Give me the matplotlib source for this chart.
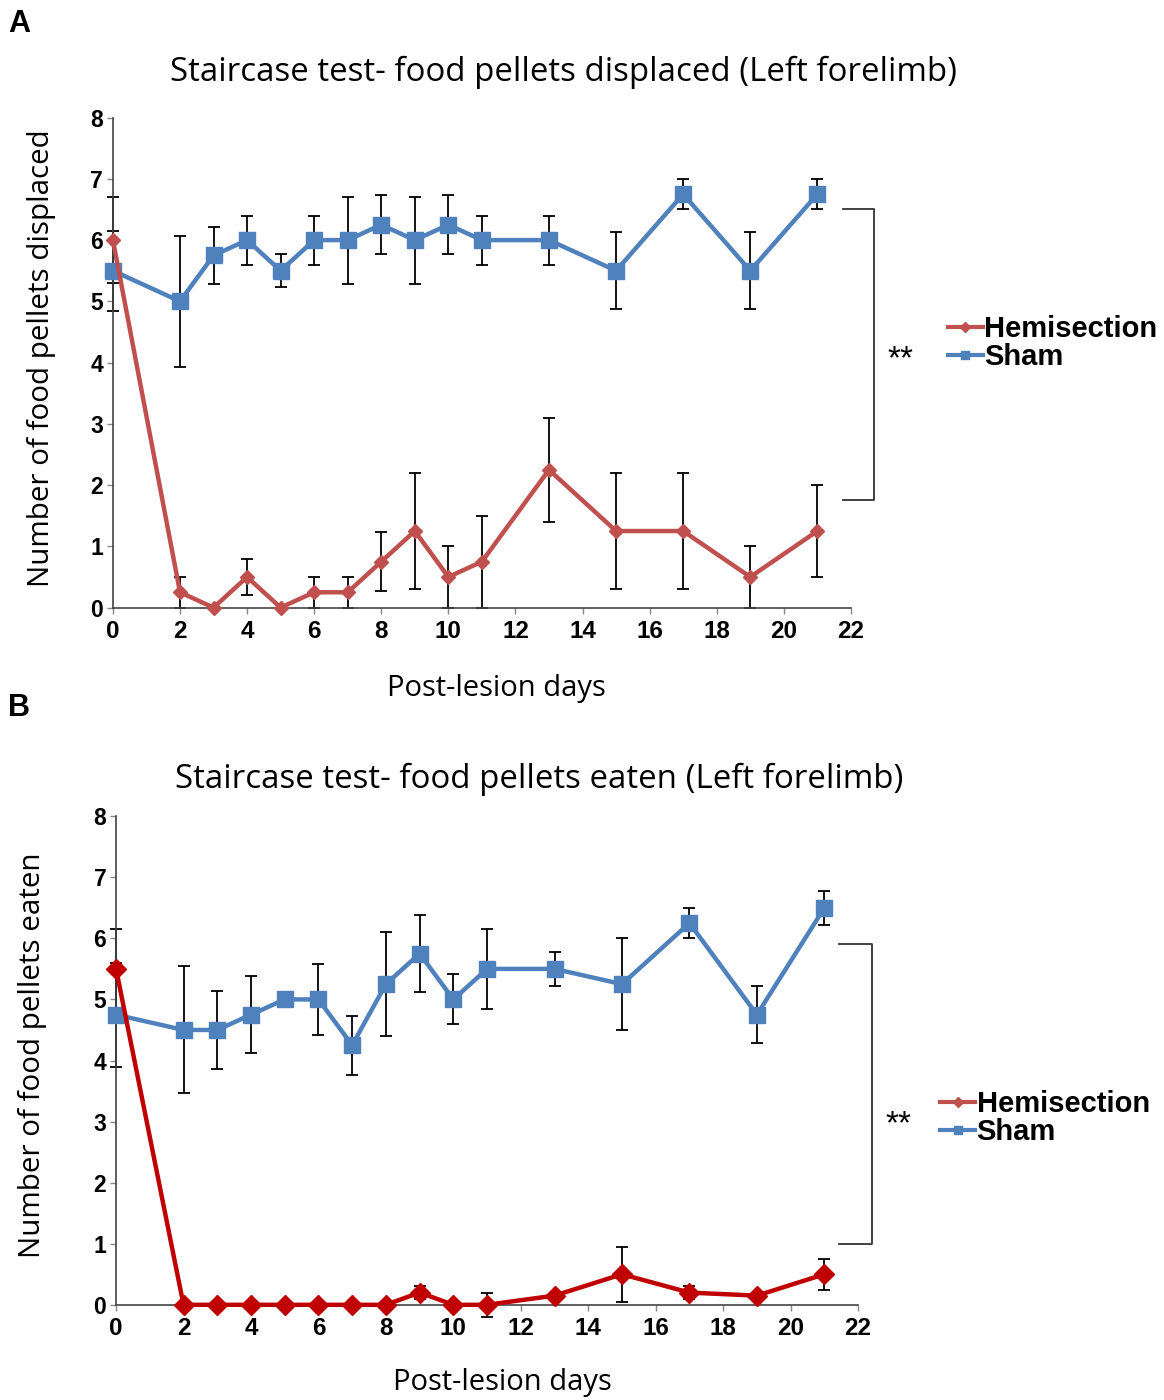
import numpy as np
import matplotlib
matplotlib.use('Agg')
import matplotlib.pyplot as plt

# post-lesion days (shared by both panels)
days = [0, 2, 3, 4, 5, 6, 7, 8, 9, 10, 11, 13, 15, 17, 19, 21]

# A: food pellets displaced
sham_disp = [5.5, 5.0, 5.75, 6.0, 5.5, 6.0, 6.0, 6.25, 6.0, 6.25, 6.0, 6.0, 5.5, 6.75, 5.5, 6.75]
sham_disp_err = [0.65, 1.07, 0.47, 0.4, 0.27, 0.4, 0.71, 0.48, 0.71, 0.48, 0.4, 0.4, 0.63, 0.25, 0.63, 0.25]
hemi_disp = [6.0, 0.25, 0.0, 0.5, 0.0, 0.25, 0.25, 0.75, 1.25, 0.5, 0.75, 2.25, 1.25, 1.25, 0.5, 1.25]
hemi_disp_err = [0.7, 0.25, 0.0, 0.29, 0.0, 0.25, 0.25, 0.48, 0.95, 0.5, 0.75, 0.85, 0.95, 0.95, 0.5, 0.75]

# B: food pellets eaten
sham_eat = [4.75, 4.5, 4.5, 4.75, 5.0, 5.0, 4.25, 5.25, 5.75, 5.0, 5.5, 5.5, 5.25, 6.25, 4.75, 6.5]
sham_eat_err = [0.85, 1.04, 0.64, 0.63, 0.0, 0.58, 0.48, 0.85, 0.63, 0.41, 0.65, 0.28, 0.75, 0.25, 0.47, 0.28]
hemi_eat = [5.5, 0.0, 0.0, 0.0, 0.0, 0.0, 0.0, 0.0, 0.2, 0.0, 0.0, 0.15, 0.5, 0.2, 0.15, 0.5]
hemi_eat_err = [0.65, 0.0, 0.0, 0.0, 0.0, 0.0, 0.0, 0.0, 0.1, 0.0, 0.2, 0.05, 0.45, 0.1, 0.05, 0.25]

x_ticks = list(range(0, 23, 2))
y_ticks = list(range(0, 9))

BLUE = '#4F81BD'
RED_A = '#C0504D'
RED_B = '#C00000'
LEG_RED = '#C0504D'

label_font = 'Open Sans'
tick_font = 'Liberation Sans'

fig = plt.figure(figsize=(11.64, 14.0), dpi=100)


def panel(rect, sham, sham_err, hemi, hemi_err, hemi_color, hemi_ms, title, ylabel,
		  bracket, star_xy, leg_xy, title_xy, ylabel_x, xlabel_y):
	ax = fig.add_axes(rect)
	ax.errorbar(days, sham, yerr=sham_err, fmt='none', ecolor='black', elinewidth=1.3,
				capsize=4, capthick=1.3, clip_on=False, zorder=2)
	ax.errorbar(days, hemi, yerr=hemi_err, fmt='none', ecolor='black', elinewidth=1.3,
				capsize=4, capthick=1.3, clip_on=False, zorder=2)
	ax.plot(days, sham, color=BLUE, lw=3.2, marker='s', ms=11, mec=BLUE, clip_on=False, zorder=3)
	ax.plot(days, hemi, color=hemi_color, lw=3.2, marker='D', ms=hemi_ms, mec=hemi_color,
			clip_on=False, zorder=4)

	ax.set_xlim(0, 22)
	ax.set_ylim(0, 8)
	ax.set_xticks(x_ticks)
	ax.set_yticks(y_ticks)
	for s in ['top', 'right']:
		ax.spines[s].set_visible(False)
	for s in ['left', 'bottom']:
		ax.spines[s].set_color('#444444')
		ax.spines[s].set_linewidth(1.2)
	ax.tick_params(direction='out', length=4, width=1, color='#888888',
				   labelfontfamily=tick_font)
	ax.tick_params(axis='x', pad=5, labelsize=17.5)
	ax.tick_params(axis='y', pad=3, labelsize=16.5)
	for lab in ax.get_xticklabels() + ax.get_yticklabels():
		lab.set_fontweight('bold')

	fig.text(title_xy[0], title_xy[1], title, fontsize=23.8, family=label_font,
			 ha='center', va='center')
	ax.set_ylabel(ylabel, fontsize=21.3, family=label_font)
	ax.yaxis.set_label_coords(ylabel_x, 0.51)
	ax.set_xlabel('Post-lesion days', fontsize=21, family=label_font)
	ax.xaxis.set_label_coords(0.52, xlabel_y)

	# significance bracket
	bx0, bx1, by0, by1 = bracket
	ax.plot([bx0, bx1, bx1, bx0], [by1, by1, by0, by0], color='#333333', lw=1.3, clip_on=False)
	ax.text(star_xy[0], star_xy[1], '**', fontsize=24, family=tick_font, ha='left', va='center')

	h1, = ax.plot([], [], color=LEG_RED, lw=3, marker='D', ms=5)
	h2, = ax.plot([], [], color=BLUE, lw=3, marker='s', ms=6)
	ax.legend([h1, h2], ['Hemisection', 'Sham'], loc='center left',
			  bbox_to_anchor=leg_xy, bbox_transform=fig.transFigure, frameon=False,
			  handlelength=1.2, handletextpad=0.05, labelspacing=0.0, borderaxespad=0,
			  borderpad=0, prop={'family': tick_font, 'weight': 'bold', 'size': 21})
	return ax


panel([0.097, 0.566, 0.634, 0.350], sham_disp, sham_disp_err, hemi_disp, hemi_disp_err,
	  RED_A, 7, 'Staircase test- food pellets displaced (Left forelimb)',
	  'Number of food pellets displaced', (21.76, 22.68, 1.75, 6.5), (23.1, 4.05),
	  (0.8144, 0.755), (0.4845, 1 - 72 / 1400), -0.077, -0.135)

panel([0.0997, 0.068, 0.6375, 0.349], sham_eat, sham_eat_err, hemi_eat, hemi_eat_err,
	  RED_B, 10, 'Staircase test- food pellets eaten (Left forelimb)',
	  'Number of food pellets eaten', (21.42, 22.4, 1.0, 5.9), (22.8, 2.95),
	  (0.8076, 0.2014), (0.4635, 1 - 779 / 1400), -0.093, -0.13)

fig.text(0.007, 0.983, 'A', fontsize=22, fontweight='bold', family=tick_font, va='center')
fig.text(0.007, 0.494, 'B', fontsize=22, fontweight='bold', family=tick_font, va='center')

fig.savefig('out.png', dpi=100)
